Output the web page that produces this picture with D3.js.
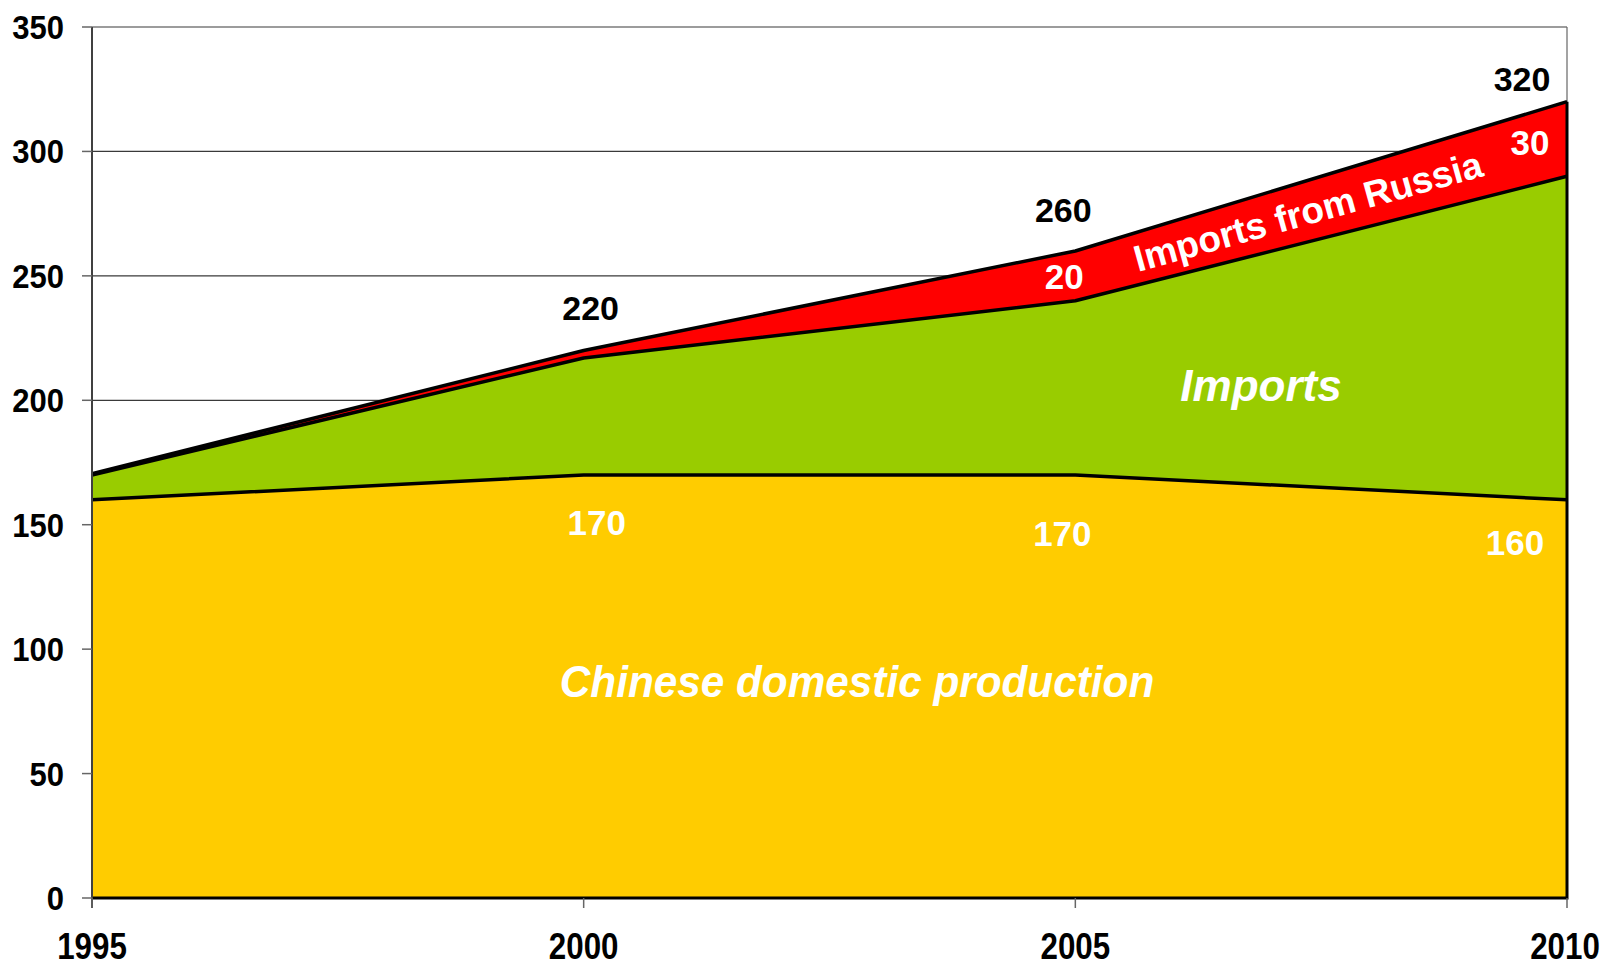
<!DOCTYPE html>
<html>
<head>
<meta charset="utf-8">
<script src="https://cdn.jsdelivr.net/npm/d3@7"></script>
<style>
  html, body { margin: 0; padding: 0; background: #fff; }
  svg { display: block; }
  text { font-family: "Liberation Sans", Arial, sans-serif; font-weight: bold; }
</style>
</head>
<body>
<svg id="chart" width="1606" height="965"></svg>
<script>
// Chinese supply, stacked by source
const years = [1995, 2000, 2005, 2010];
const domestic = [160, 170, 170, 160];
const imports = [10, 47, 70, 130];
const russia = [0.5, 3, 20, 30];
const yTicks = [0, 50, 100, 150, 200, 250, 300, 350];
const totalLabels = [null, 220, 260, 320];
const domesticLabels = [null, 170, 170, 160];
const russiaLabels = [null, null, 20, 30];

const colors = { domestic: "#FFCC00", imports: "#99CC00", russia: "#FF0000" };

const margin = { left: 92, right: 39, top: 27, bottom: 67 };
const W = 1606, H = 965;
const svg = d3.select("#chart");

const x = d3.scaleLinear().domain([1995, 2010]).range([margin.left, W - margin.right]);
const y = d3.scaleLinear().domain([0, 350]).range([H - margin.bottom, margin.top]);

const rows = years.map((yr, i) => ({ year: yr, domestic: domestic[i], imports: imports[i], russia: russia[i] }));
const stack = d3.stack().keys(["domestic", "imports", "russia"]);
const series = stack(rows);

// gridlines
svg.append("g")
  .selectAll("line")
  .data(yTicks.filter(d => d > 0))
  .join("line")
  .attr("x1", x(1995)).attr("x2", x(2010))
  .attr("y1", d => y(d)).attr("y2", d => y(d))
  .attr("stroke", "#3a3a3a").attr("stroke-width", 1.2);

// right border of plot area
svg.append("line")
  .attr("x1", x(2010)).attr("x2", x(2010))
  .attr("y1", y(350)).attr("y2", y(0))
  .attr("stroke", "#666").attr("stroke-width", 1.2);

// stacked areas
const area = d3.area()
  .x(d => x(d.data.year))
  .y0(d => y(d[0]))
  .y1(d => y(d[1]));

svg.append("g")
  .selectAll("path")
  .data(series)
  .join("path")
  .attr("d", area)
  .attr("fill", d => colors[d.key]);

// black outlines on top of each band
const topLine = d3.line().x(d => x(d.data.year)).y(d => y(d[1]));
svg.append("g")
  .selectAll("path")
  .data(series)
  .join("path")
  .attr("d", topLine)
  .attr("fill", "none")
  .attr("stroke", "#000")
  .attr("stroke-width", 3.5)
  .attr("stroke-linejoin", "round");

// base and right edge outline
const last = series[series.length - 1][years.length - 1];
svg.append("path")
  .attr("d", d3.line()([[x(1995), y(0)], [x(2010), y(0)], [x(2010), y(last[1])]]))
  .attr("fill", "none").attr("stroke", "#000").attr("stroke-width", 3);

// axes
const yAxis = svg.append("g").attr("transform", `translate(${x(1995)},0)`);
yAxis.append("line")
  .attr("x1", 0).attr("x2", 0).attr("y1", y(350)).attr("y2", y(0) + 10)
  .attr("stroke", "#404040").attr("stroke-width", 2);
yAxis.selectAll("line.tick")
  .data(yTicks)
  .join("line").attr("class", "tick")
  .attr("x1", -10).attr("x2", 0)
  .attr("y1", d => y(d)).attr("y2", d => y(d))
  .attr("stroke", "#666").attr("stroke-width", 1.5);
yAxis.selectAll("text")
  .data(yTicks)
  .join("text")
  .attr("transform", d => `translate(-28,${y(d) + 12}) scale(0.94,1)`)
  .attr("text-anchor", "end")
  .attr("font-size", 33)
  .attr("fill", "#000")
  .text(d => d);

const xAxis = svg.append("g");
xAxis.selectAll("line")
  .data(years)
  .join("line")
  .attr("x1", d => x(d)).attr("x2", d => x(d))
  .attr("y1", y(0)).attr("y2", y(0) + 10)
  .attr("stroke", "#666").attr("stroke-width", 1.5);
xAxis.selectAll("text")
  .data(years)
  .join("text")
  .attr("transform", d => `translate(${x(d) - (d === 2010 ? 2 : 0)},959) scale(0.87,1)`)
  .attr("text-anchor", "middle")
  .attr("font-size", 36)
  .attr("fill", "#000")
  .text(d => d);

// value labels
const totalOffsets = [null, [7, -31], [-12, -29], [-45, -11]];
svg.append("g").selectAll("text")
  .data(years.map((yr, i) => ({ yr, i, v: totalLabels[i] })).filter(d => d.v !== null))
  .join("text")
  .attr("x", d => x(d.yr) + totalOffsets[d.i][0])
  .attr("y", d => y(d.v) + totalOffsets[d.i][1])
  .attr("text-anchor", "middle")
  .attr("font-size", 34)
  .attr("fill", "#000")
  .text(d => d.v);

const domOffsets = [null, [13, 60], [-13, 71], [-52, 55]];
svg.append("g").selectAll("text")
  .data(years.map((yr, i) => ({ yr, i, v: domesticLabels[i] })).filter(d => d.v !== null))
  .join("text")
  .attr("x", d => x(d.yr) + domOffsets[d.i][0])
  .attr("y", d => y(d.v) + domOffsets[d.i][1])
  .attr("text-anchor", "middle")
  .attr("font-size", 35)
  .attr("fill", "#fff")
  .text(d => d.v);

const rusOffsets = [null, null, [-11, 13], [-37, 16]];
svg.append("g").selectAll("text")
  .data(years.map((yr, i) => ({ yr, i, v: russiaLabels[i] })).filter(d => d.v !== null))
  .join("text")
  .attr("x", d => x(d.yr) + rusOffsets[d.i][0])
  .attr("y", d => y(domestic[d.i] + imports[d.i] + d.v / 2) + rusOffsets[d.i][1])
  .attr("text-anchor", "middle")
  .attr("font-size", 35)
  .attr("fill", "#fff")
  .text(d => d.v);

// series names
svg.append("text")
  .attr("transform", "translate(857,697) scale(0.94,1)")
  .attr("text-anchor", "middle")
  .attr("font-size", 45)
  .attr("font-style", "italic")
  .attr("fill", "#fff")
  .text("Chinese domestic production");

svg.append("text")
  .attr("transform", "translate(1261,401)")
  .attr("text-anchor", "middle")
  .attr("font-size", 44)
  .attr("font-style", "italic")
  .attr("fill", "#fff")
  .text("Imports");

svg.append("text")
  .attr("transform", "translate(1138,272) rotate(-15.5)")
  .attr("text-anchor", "start")
  .attr("font-size", 37)
  .attr("fill", "#fff")
  .text("Imports from Russia");
</script>
</body>
</html>
